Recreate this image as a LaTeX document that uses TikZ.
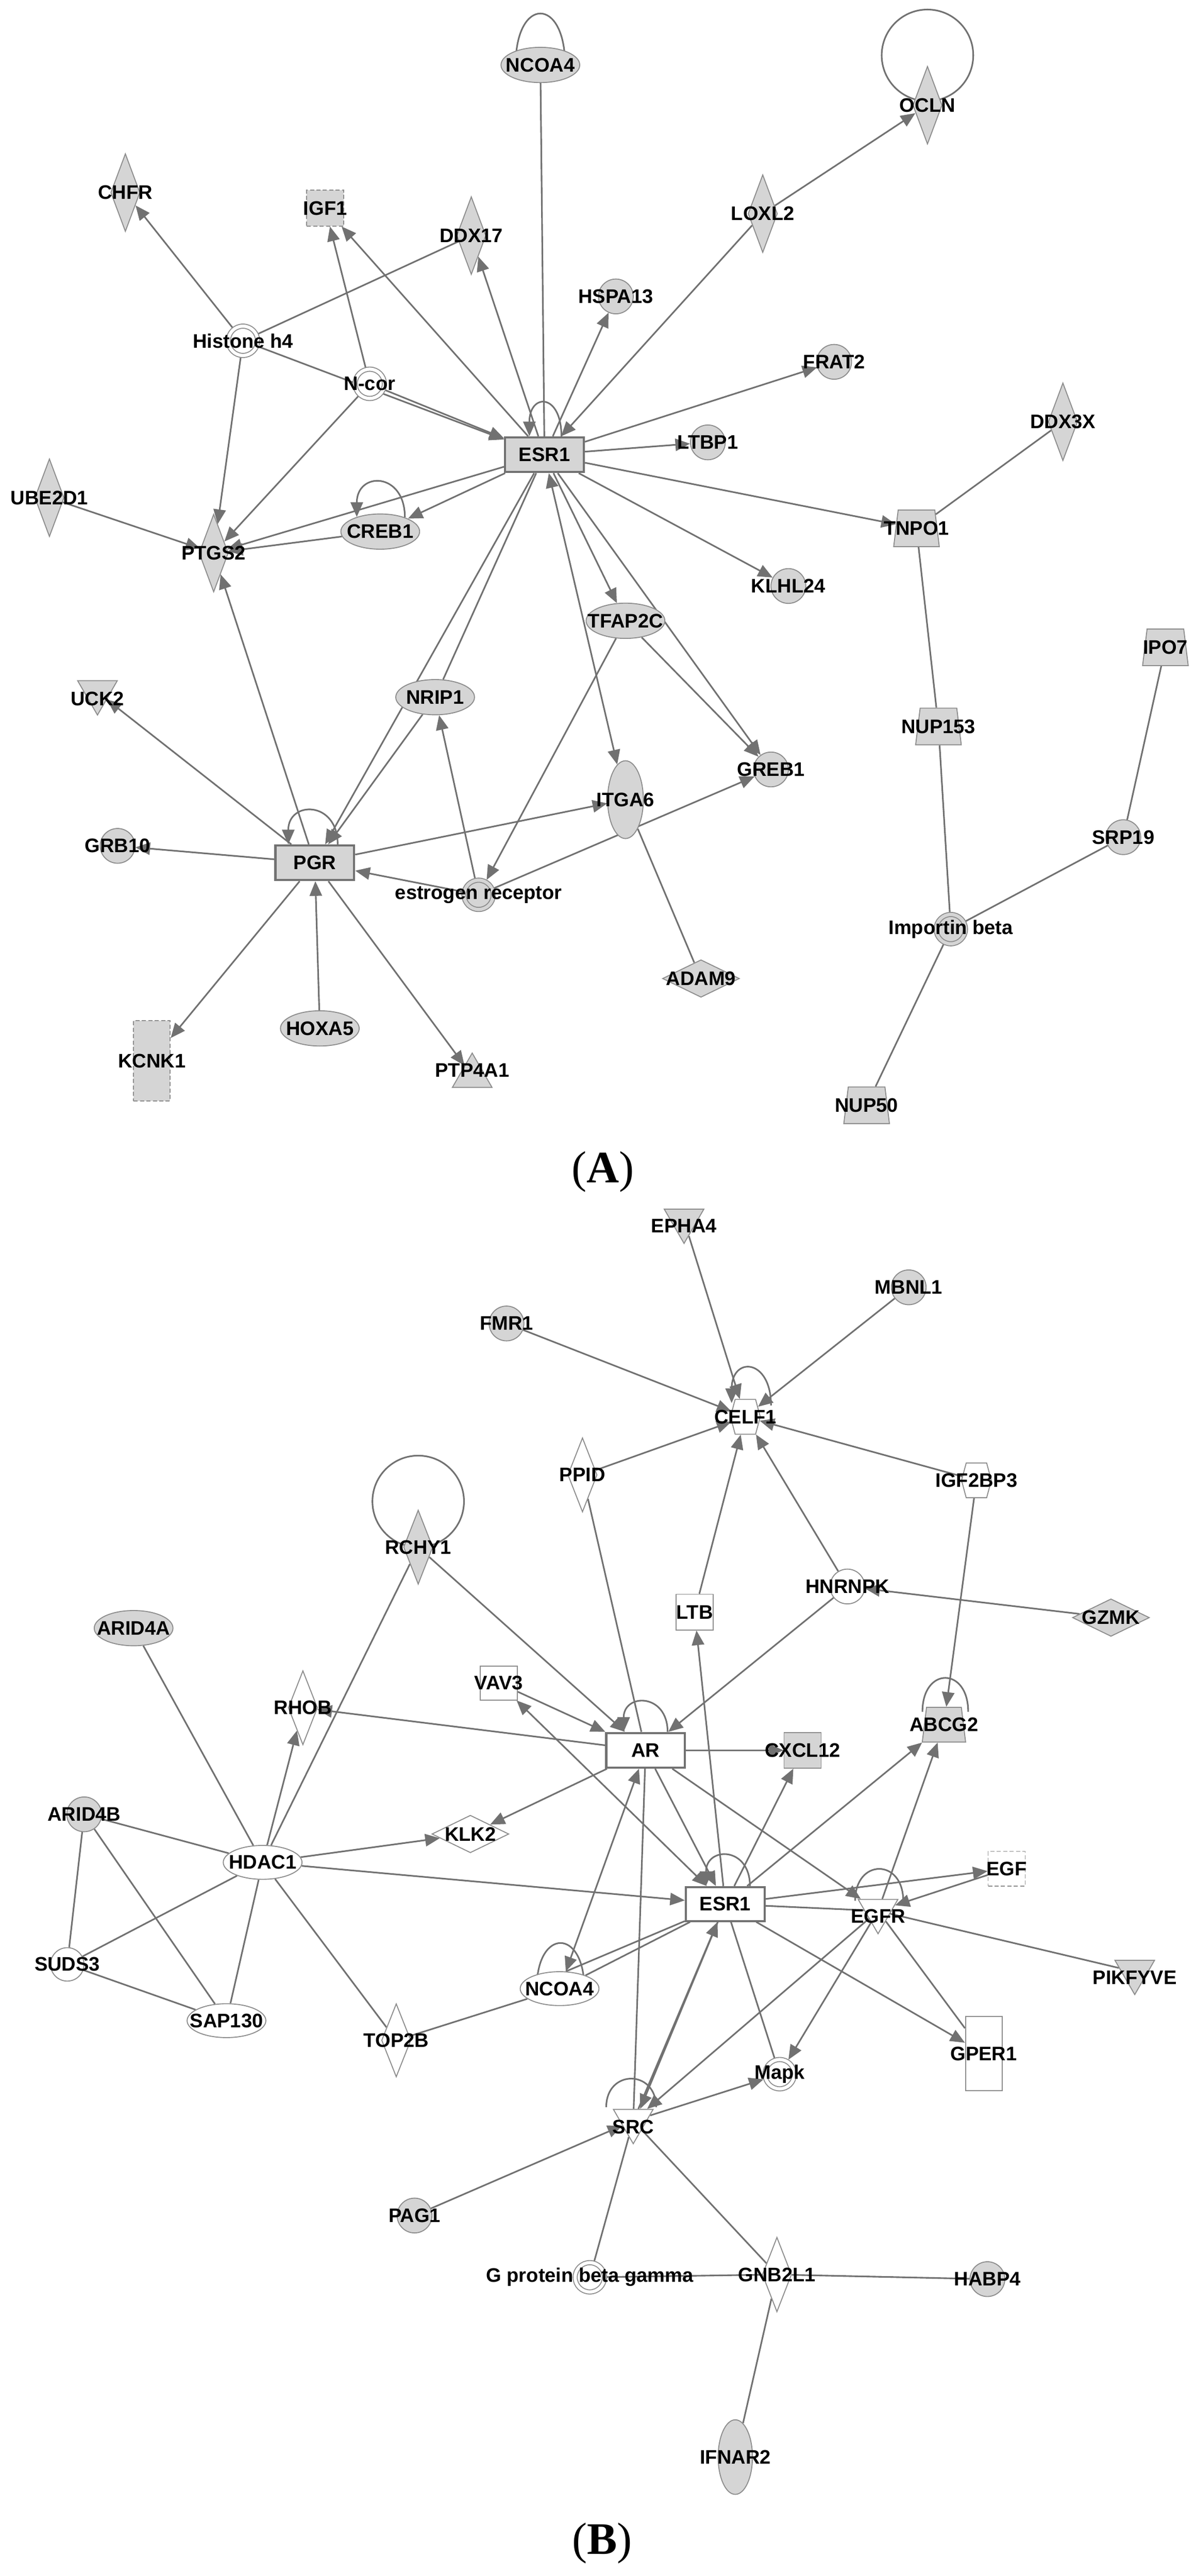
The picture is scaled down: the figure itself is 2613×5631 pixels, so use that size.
\documentclass[tikz,border=0pt]{standalone}
\usepackage{fontspec}
\setmainfont{Liberation Sans}
\newfontfamily\capfont{Liberation Serif}
\usetikzlibrary{shapes.geometric,shapes.symbols,arrows.meta,backgrounds}
\definecolor{lgray}{HTML}{717171}
\definecolor{bgray}{HTML}{8C8C8C}
\definecolor{hgray}{HTML}{D5D5D5}
\begin{document}
\begin{tikzpicture}[x=0.01cm, y=-0.01cm, >={Triangle[length=0.32cm,width=0.27cm]},
	every edge/.style={draw=lgray, line width=1pt},
	every label/.style={font=\bfseries\fontsize{12.2}{14}\selectfont, inner sep=0pt},
	gene/.style={draw=bgray, line width=0.6pt, fill=white, inner sep=1pt},
	hit/.style={fill=hgray},
	box/.style={gene, rectangle, draw=lgray, line width=1.3pt, minimum width=1.72cm, minimum height=0.76cm},
	sq/.style={gene, rectangle, minimum width=0.81cm, minimum height=0.78cm},
	dsq/.style={sq, dash pattern=on 0.09cm off 0.05cm},
	tallbox/.style={gene, rectangle, minimum width=0.8cm, minimum height=1.7cm},
	dot/.style={gene, circle, minimum size=0.76cm},
	oval/.style={gene, ellipse, minimum width=1.72cm, minimum height=0.77cm},
	tall/.style={gene, ellipse, minimum width=0.78cm, minimum height=1.7cm},
	dia/.style={gene, diamond, minimum width=0.64cm, minimum height=1.7cm},
	hdia/.style={gene, diamond, minimum width=1.68cm, minimum height=0.82cm},
	tri/.style={gene, regular polygon, regular polygon sides=3, shape border rotate=180, minimum size=1cm},
	triup/.style={gene, regular polygon, regular polygon sides=3, minimum size=1cm},
	trap/.style={gene, trapezium, inner sep=2pt, trapezium left angle=83, trapezium right angle=83, minimum width=0.8cm, minimum height=0.8cm},
	hexa/.style={gene, signal, inner sep=2pt, signal to=east and west, signal pointer angle=150, minimum width=0.65cm, minimum height=0.76cm},
	grp/.style={gene, circle, minimum size=0.64cm, double=white, double distance=0.07cm, outer sep=0.05cm},
	grphit/.style={grp, fill=hgray, double=hgray},
	rim/.style={draw=lgray, line width=1pt},
	panelcap/.style={font=\capfont\fontsize{28}{30}\selectfont}]

	\useasboundingbox (0,0) rectangle (2613,5631);

	% panel A
	\node[oval, hit, label=center:NCOA4] (NCOA4a) at (1181,142) {};
	\node[dia, hit, label=center:OCLN] (OCLN) at (2027,230) {};
	\node[dia, hit, label=center:CHFR] (CHFR) at (274,421) {};
	\node[dsq, hit, label=center:IGF1] (IGF1) at (711,455) {};
	\node[dia, hit, label=center:DDX17] (DDX17) at (1030,515) {};
	\node[dia, hit, label=center:LOXL2] (LOXL2) at (1667,467) {};
	\node[dot, hit, label=center:HSPA13] (HSPA13) at (1346,648) {};
	\node[grp, label=center:Histone h4] (Histone) at (531,745) {};
	\node[grp, label=center:N-cor] (Ncor) at (808,839) {};
	\node[dot, hit, label=center:FRAT2] (FRAT2) at (1823,791) {};
	\node[dia, hit, label=center:DDX3X] (DDX3X) at (2323,922) {};
	\node[box, hit, label=center:ESR1] (ESR1a) at (1190,994) {};
	\node[dia, hit, label=center:UBE2D1] (UBE2D1) at (108,1088) {};
	\node[dia, hit, label=center:PTGS2] (PTGS2) at (467,1209) {};
	\node[oval, hit, label=center:CREB1] (CREB1) at (831,1162) {};
	\node[dot, hit, label=center:LTBP1] (LTBP1) at (1547,967) {};
	\node[trap, hit, label=center:TNPO1] (TNPO1) at (2003,1155) {};
	\node[dot, hit, label=center:KLHL24] (KLHL24) at (1723,1281) {};
	\node[oval, hit, label=center:TFAP2C] (TFAP2C) at (1367,1357) {};
	\node[oval, hit, label=center:NRIP1] (NRIP1) at (951,1524) {};
	\node[tri, hit, label={[yshift=-0.15cm]center:UCK2}] (UCK2) at (213,1513) {};
	\node[trap, hit, label=center:IPO7] (IPO7) at (2547,1415) {};
	\node[trap, hit, label=center:NUP153] (NUP153) at (2051,1588) {};
	\node[dot, hit, label=center:GREB1] (GREB1) at (1685,1682) {};
	\node[tall, hit, label=center:ITGA6] (ITGA6) at (1367,1748) {};
	\node[dot, hit, label=center:SRP19] (SRP19) at (2455,1830) {};
	\node[dot, hit, label=center:GRB10] (GRB10) at (257,1849) {};
	\node[box, hit, label=center:PGR] (PGR) at (688,1886) {};
	\node[grphit, label=center:estrogen receptor] (ER) at (1046,1956) {};
	\node[grphit, label=center:Importin beta] (Importin) at (2078,2031) {};
	\node[hdia, hit, label=center:ADAM9] (ADAM9) at (1532,2139) {};
	\node[oval, hit, label=center:HOXA5] (HOXA5) at (699,2248) {};
	\node[tallbox, hit, dash pattern=on 0.09cm off 0.05cm, minimum height=1.75cm, label=center:KCNK1] (KCNK1) at (332,2319) {};
	\node[triup, hit, label={[yshift=0.13cm]center:PTP4A1}] (PTP4A1) at (1032,2352) {};
	\node[trap, hit, label=center:NUP50] (NUP50) at (1894,2416) {};
	\node[panelcap] (capA) at (1318,2561) {(\textbf{A})};

	% panel B
	\node[tri, hit, label={[yshift=-0.12cm]center:EPHA4}] (EPHA4) at (1495,2668) {};
	\node[dot, hit, label=center:MBNL1] (MBNL1) at (1986,2814) {};
	\node[dot, hit, label=center:FMR1] (FMR1) at (1107,2893) {};
	\node[hexa, label=center:CELF1] (CELF1) at (1629,3097) {};
	\node[dia, minimum height=1.62cm, label=center:PPID] (PPID) at (1273,3224) {};
	\node[hexa, label=center:IGF2BP3] (IGF2BP3) at (2134,3236) {};
	\node[dia, hit, minimum height=1.62cm, label=center:RCHY1] (RCHY1) at (914,3382) {};
	\node[dot, label=center:HNRNPK] (HNRNPK) at (1852,3468) {};
	\node[sq, label=center:LTB] (LTB) at (1518,3524) {};
	\node[hdia, hit, label=center:GZMK] (GZMK) at (2428,3536) {};
	\node[oval, hit, label=center:ARID4A] (ARID4A) at (292,3559) {};
	\node[sq, minimum height=0.74cm, label=center:VAV3] (VAV3) at (1090,3679) {};
	\node[dia, minimum height=1.62cm, label=center:RHOB] (RHOB) at (662,3733) {};
	\node[trap, hit, minimum height=0.76cm, label=center:ABCG2] (ABCG2) at (2063,3770) {};
	\node[box, label=center:AR] (AR) at (1411,3826) {};
	\node[sq, hit, label=center:CXCL12] (CXCL12) at (1754,3826) {};
	\node[dot, hit, label=center:ARID4B] (ARID4B) at (184,3966) {};
	\node[hdia, label=center:KLK2] (KLK2) at (1028,4009) {};
	\node[oval, minimum height=0.74cm, label=center:HDAC1] (HDAC1) at (574,4071) {};
	\node[dsq, minimum height=0.76cm, label=center:EGF] (EGF) at (2200,4085) {};
	\node[box, minimum height=0.74cm, label=center:ESR1] (ESR1b) at (1585,4162) {};
	\node[tri, label={[yshift=-0.12cm]center:EGFR}] (EGFR) at (1919,4177) {};
	\node[tri, hit, label={[yshift=-0.13cm]center:PIKFYVE}] (PIKFYVE) at (2480,4310) {};
	\node[dot, minimum size=0.73cm, label=center:SUDS3] (SUDS3) at (147,4294) {};
	\node[oval, minimum height=0.74cm, label=center:NCOA4] (NCOA4b) at (1223,4347) {};
	\node[oval, minimum height=0.74cm, label=center:SAP130] (SAP130) at (495,4417) {};
	\node[dia, minimum height=1.6cm, label=center:TOP2B] (TOP2B) at (866,4460) {};
	\node[tallbox, minimum height=1.62cm, label=center:GPER1] (GPER1) at (2150,4489) {};
	\node[grp, label=center:Mapk] (Mapk) at (1704,4534) {};
	\node[tri, label={[yshift=-0.13cm]center:SRC}] (SRC) at (1384,4636) {};
	\node[dot, hit, label=center:PAG1] (PAG1) at (906,4843) {};
	\node[grp, label=center:G protein beta gamma] (Gbg) at (1289,4978) {};
	\node[dia, minimum height=1.63cm, label=center:GNB2L1] (GNB2L1) at (1698,4972) {};
	\node[dot, hit, label=center:HABP4] (HABP4) at (2158,4982) {};
	\node[tall, hit, minimum width=0.75cm, minimum height=1.63cm, label=center:IFNAR2] (IFNAR2) at (1607,5371) {};
	\node[panelcap] (capB) at (1316,5559) {(\textbf{B})};

	\begin{pgfonlayer}{background}
	% self loops
	\draw[rim] ([xshift=-0.54cm]NCOA4a.center) .. controls +(0,-150) and +(0,-150) .. ([xshift=0.54cm]NCOA4a.center);
	\draw[rim] ([yshift=1.09cm]OCLN.center) circle[radius=1cm];
	\draw[rim,->] ([xshift=0.37cm]ESR1a.north) .. controls +(0,-95) and +(0,-95) .. ([xshift=-0.33cm]ESR1a.north);
	\draw[rim,->] (CREB1.30) .. controls +(0,-100) and +(0,-100) .. (CREB1.148);
	\draw[rim,->] ([xshift=0.5cm]PGR.north) .. controls +(0,-96) and +(0,-96) .. ([xshift=-0.58cm]PGR.north);
	\draw[rim] ([yshift=1cm]RCHY1.center) circle[radius=1cm];
	\draw[rim,->] ([xshift=0.56cm,yshift=0.25cm]CELF1.center) .. controls +(0,-103) and +(0,-103) .. ([xshift=-0.3cm,yshift=0.3cm]CELF1.center);
	\draw[rim,->] ([xshift=0.48cm]AR.north) .. controls +(0,-85) and +(0,-85) .. ([xshift=-0.48cm]AR.north);
	\draw[rim] ([xshift=0.53cm,yshift=0.28cm]ABCG2.center) .. controls +(0,-99) and +(0,-99) .. ([xshift=-0.47cm,yshift=0.28cm]ABCG2.center);
	\draw[rim,->] ([xshift=0.54cm]ESR1b.north) .. controls +(0,-87) and +(0,-87) .. ([xshift=-0.42cm]ESR1b.north);
	\draw[rim] ([xshift=0.55cm,yshift=0.22cm]EGFR.center) .. controls +(0,-93) and +(0,-93) .. ([xshift=-0.5cm,yshift=0.22cm]EGFR.center);
	\draw[rim] ([xshift=0.5cm,yshift=0.3cm]SRC.center) .. controls +(0,-83) and +(0,-83) .. ([xshift=-0.59cm,yshift=0.3cm]SRC.center);
	\draw[rim] ([xshift=0.54cm]NCOA4b.center) .. controls +(0,-133) and +(0,-133) .. ([xshift=-0.5cm]NCOA4b.center);

	% panel A links
	\path (NCOA4a) edge (ESR1a);
	\path[->] (Histone) edge (CHFR);
	\path (Histone) edge (DDX17);
	\path[->] (Histone) edge (ESR1a);
	\path[->] (Ncor) edge (ESR1a);
	\path[->] (Histone) edge (PTGS2);
	\path[->] (Ncor) edge (IGF1);
	\path[->] (ESR1a) edge (IGF1);
	\path[->] (ESR1a) edge (DDX17);
	\path[->] (Ncor) edge (PTGS2);
	\path[->] (ESR1a) edge (HSPA13);
	\path[->] (LOXL2) edge (ESR1a);
	\path[->] (LOXL2) edge (OCLN);
	\path[->] (ESR1a) edge (FRAT2);
	\path[->] (ESR1a) edge (LTBP1);
	\path[->] (ESR1a) edge (TNPO1);
	\path[->] (ESR1a) edge (KLHL24);
	\path (DDX3X) edge (TNPO1);
	\path (TNPO1) edge (NUP153);
	\path (NUP153) edge (Importin);
	\path (IPO7) edge (SRP19);
	\path (SRP19) edge (Importin);
	\path (Importin) edge (NUP50);
	\path[->] (ESR1a) edge (TFAP2C);
	\path[->] (ESR1a) edge (GREB1);
	\path[->] (TFAP2C) edge (GREB1);
	\path[<->] (ESR1a) edge (ITGA6);
	\path[->] (ESR1a) edge (CREB1);
	\path[->] (ESR1a) edge (PTGS2);
	\path[->] (CREB1) edge (PTGS2);
	\path[->] (UBE2D1) edge (PTGS2);
	\path[->] (ESR1a) edge (PGR);
	\path (ESR1a) edge (NRIP1);
	\path[->] (NRIP1) edge (PGR);
	\path[->] (ER) edge (NRIP1);
	\path[->] (PGR) edge (PTGS2);
	\path[->] (PGR) edge (UCK2);
	\path[->] (PGR) edge (GRB10);
	\path[->] (PGR) edge (KCNK1);
	\path[->] (HOXA5) edge (PGR);
	\path[->] (PGR) edge (PTP4A1);
	\path[->] (ER) edge (PGR);
	\path[->] (PGR) edge (ITGA6);
	\path[->] (ER) edge (GREB1);
	\path[->] (TFAP2C) edge (ER);
	\path (ITGA6) edge (ADAM9);

	% panel B links
	\path[->] (FMR1) edge (CELF1);
	\path[->] (EPHA4) edge (CELF1);
	\path[->] (MBNL1) edge (CELF1);
	\path[->] (PPID) edge (CELF1);
	\path[->] (LTB) edge (CELF1);
	\path[->] (HNRNPK) edge (CELF1);
	\path[->] (IGF2BP3) edge (CELF1);
	\path[->] (IGF2BP3) edge (ABCG2);
	\path[->] (GZMK) edge (HNRNPK);
	\path[->] (HNRNPK) edge (AR);
	\path (PPID) edge (AR);
	\path[->] (RCHY1) edge (AR);
	\path[->] (VAV3) edge (AR);
	\path[<->] (VAV3) edge (ESR1b);
	\path[->] (AR) edge (RHOB);
	\path (ARID4A) edge (HDAC1);
	\path[->] (HDAC1) edge (RHOB);
	\path (HDAC1) edge (RCHY1);
	\path (HDAC1) edge (ARID4B);
	\path[->] (HDAC1) edge (KLK2);
	\path[->] (HDAC1) edge (ESR1b);
	\path (HDAC1) edge (SUDS3);
	\path (HDAC1) edge (SAP130);
	\path (HDAC1) edge (TOP2B);
	\path (ARID4B) edge (SUDS3);
	\path (ARID4B) edge (SAP130);
	\path (SUDS3) edge (SAP130);
	\path[->] (AR) edge (KLK2);
	\path[<->] (AR) edge (NCOA4b);
	\path (NCOA4b) edge (TOP2B);
	\path (ESR1b) edge (NCOA4b);
	\path (ESR1b) edge (NCOA4b.70);
	\path[->] (AR) edge (CXCL12);
	\path[->] (ESR1b) edge (LTB);
	\path[->] (AR) edge (ESR1b);
	\path[->] (AR) edge (EGFR);
	\path (AR) edge (SRC);
	\path[->] (ESR1b) edge (CXCL12);
	\path[->] (ESR1b) edge (ABCG2);
	\path[->] (EGFR) edge (ABCG2);
	\path[->] (ESR1b) edge (EGF);
	\path[->] (EGF) edge (EGFR);
	\path (ESR1b) edge (EGFR);
	\path (EGFR) edge (PIKFYVE);
	\path[->] (ESR1b) edge (GPER1);
	\path (EGFR) edge (GPER1);
	\path[->] (EGFR) edge (Mapk);
	\path[->] (EGFR) edge (SRC);
	\path (ESR1b) edge (Mapk);
	\path[->] (SRC) edge (Mapk);
	\path[->] (SRC) edge (ESR1b);
	\path[->] (ESR1b) edge (SRC.60);
	\path[->] (PAG1) edge (SRC);
	\path (SRC) edge (Gbg);
	\path (SRC) edge (GNB2L1);
	\path (Gbg) edge (GNB2L1);
	\path (GNB2L1) edge (HABP4);
	\path (GNB2L1) edge (IFNAR2);
	\end{pgfonlayer}

\end{tikzpicture}
\end{document}
